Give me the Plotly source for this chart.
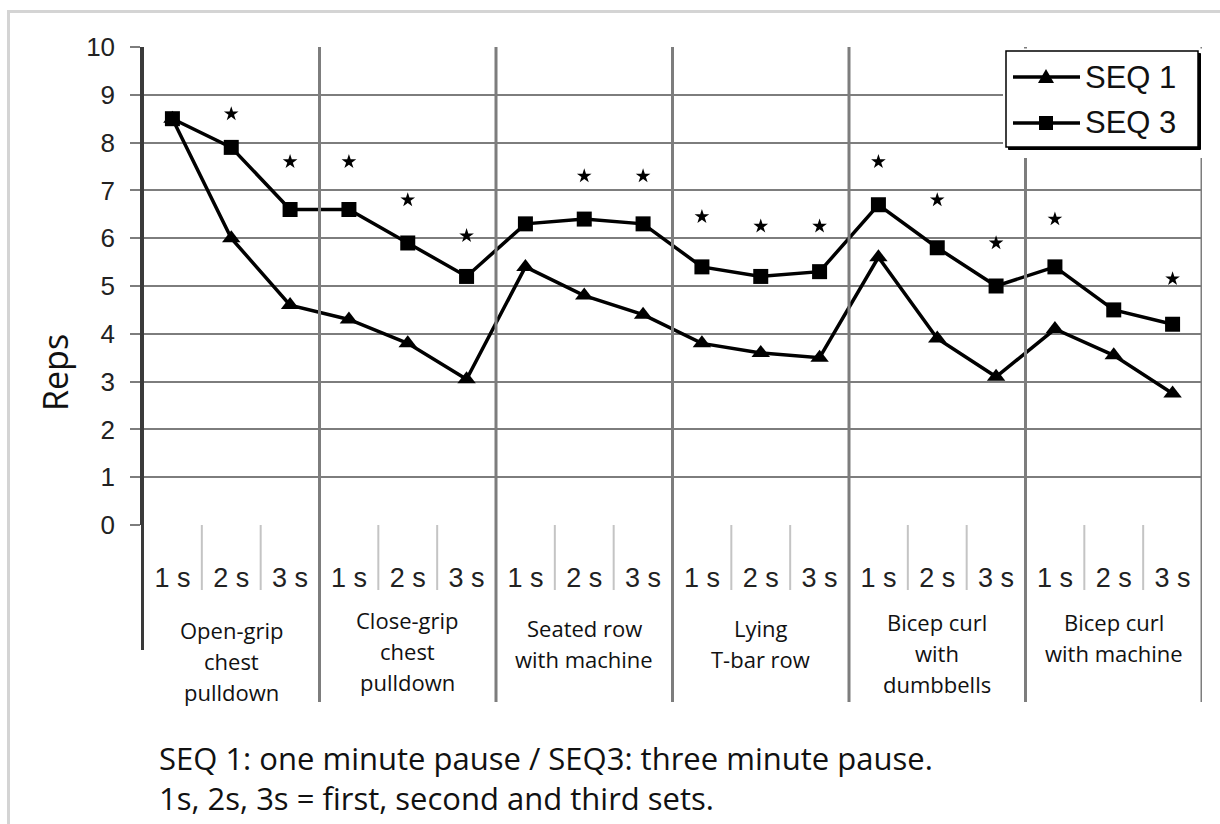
import plotly.graph_objects as go

# ---- data -------------------------------------------------------------
exercises = [
    "Open-grip<br>chest<br>pulldown",
    "Close-grip<br>chest<br>pulldown",
    "Seated row<br>with machine",
    "Lying<br>T-bar row",
    "Bicep curl<br>with<br>dumbbells",
    "Bicep curl<br>with machine",
]
set_labels = ["1 s", "2 s", "3 s"]
seq1_reps = [8.5, 6.0, 4.6, 4.3, 3.8, 3.05, 5.4, 4.8, 4.4, 3.8, 3.6, 3.5, 5.6, 3.9, 3.1, 4.1, 3.55, 2.75]
seq3_reps = [8.5, 7.9, 6.6, 6.6, 5.9, 5.2, 6.3, 6.4, 6.3, 5.4, 5.2, 5.3, 6.7, 5.8, 5.0, 5.4, 4.5, 4.2]
significance = [None, 8.6, 7.6, 7.6, 6.8, 6.05, None, 7.3, 7.3, 6.45, 6.25, 6.25,
                7.6, 6.8, 5.9, 6.4, None, 5.15]
y_ticks = list(range(0, 11))
footnotes = [
    "SEQ 1: one minute pause / SEQ3: three minute pause.",
    "1s, 2s, 3s = first, second and third sets.",
]

# ---- geometry helpers (pixel -> paper) ---------------------------------
W, H = 1220, 824
PL, PR, PT, PB = 143, 1202, 47, 525


def px_x(px):
    return (px - PL) / (PR - PL)


def px_y(py):
    return (PB - py) / (PB - PT)


n_sets = len(set_labels)
x_idx = list(range(len(exercises) * n_sets))
tick_text = set_labels * len(exercises)

GRID = "#7d7d7d"
SUBGRID = "#c4c4c4"
AXIS = "#3a3a3a"
SANS = "Liberation Sans, Arial, sans-serif"
HUMAN = "Open Sans, Noto Sans, sans-serif"

fig = go.Figure()

fig.add_trace(go.Scatter(
    x=x_idx, y=seq1_reps, mode="lines+markers", name="SEQ 1",
    line=dict(color="black", width=3.5),
    marker=dict(symbol="triangle-up", size=16, color="black"),
))
fig.add_trace(go.Scatter(
    x=x_idx, y=seq3_reps, mode="lines+markers", name="SEQ 3",
    line=dict(color="black", width=3.5),
    marker=dict(symbol="square", size=15, color="black"),
))
fig.add_trace(go.Scatter(
    x=x_idx, y=significance, mode="markers", name="*",
    marker=dict(symbol="star", size=11, color="black"),
))

shapes = []
# outer light frame
shapes.append(dict(type="rect", xref="paper", yref="paper",
                   x0=px_x(8.5), x1=px_x(1260), y0=px_y(11.5), y1=px_y(900),
                   line=dict(color="#d4d4d4", width=3), layer="below"))

# group separators (run down through the label area)
for g in range(1, len(exercises) + 1):
    xb = g * n_sets - 0.5
    shapes.append(dict(type="line", xref="x", yref="paper",
                       x0=xb, x1=xb, y0=1, y1=px_y(702),
                       line=dict(color=GRID, width=3)))
# set separators below the axis
for g in range(len(exercises)):
    for k in (0.5, 1.5):
        xb = g * n_sets + k
        shapes.append(dict(type="line", xref="x", yref="paper",
                           x0=xb, x1=xb, y0=0, y1=px_y(590),
                           line=dict(color=SUBGRID, width=2)))
# left axis line, carried down under the plot
shapes.append(dict(type="line", xref="paper", yref="paper",
                   x0=px_x(142.5), x1=px_x(142.5), y0=1, y1=px_y(650),
                   line=dict(color=AXIS, width=3)))

# legend block
LX0, LX1, LY0, LY1 = 1006, 1198, 51, 147
shapes.append(dict(type="rect", xref="paper", yref="paper",
                   x0=px_x(1003), x1=px_x(1206), y0=px_y(48.5), y1=px_y(158),
                   fillcolor="white", line=dict(width=0)))
shapes.append(dict(type="rect", xref="paper", yref="paper",
                   x0=px_x(LX0 + 2.5), x1=px_x(LX1 + 2.5), y0=px_y(LY0 + 2.5), y1=px_y(LY1 + 2.5),
                   fillcolor="black", line=dict(color="black", width=1)))
shapes.append(dict(type="rect", xref="paper", yref="paper",
                   x0=px_x(LX0), x1=px_x(LX1), y0=px_y(LY0), y1=px_y(LY1),
                   fillcolor="white", line=dict(color="black", width=1.5)))
legend_rows = [("SEQ 1", "triangle", 77), ("SEQ 3", "square", 123)]
for label, sym, ly in legend_rows:
    shapes.append(dict(type="line", xref="paper", yref="paper",
                       x0=px_x(1013), x1=px_x(1080), y0=px_y(ly), y1=px_y(ly),
                       line=dict(color="black", width=3.5)))
    cx = 1046
    if sym == "square":
        shapes.append(dict(type="rect", xref="paper", yref="paper",
                           x0=px_x(cx - 7), x1=px_x(cx + 7), y0=px_y(ly - 7), y1=px_y(ly + 7),
                           fillcolor="black", line=dict(width=0)))
    else:
        path = "M{},{} L{},{} L{},{} Z".format(
            px_x(cx - 8), px_y(ly + 6), px_x(cx + 8), px_y(ly + 6), px_x(cx), px_y(ly - 8))
        shapes.append(dict(type="path", xref="paper", yref="paper", path=path,
                           fillcolor="black", line=dict(width=0)))

annotations = []
for label, sym, ly in legend_rows:
    annotations.append(dict(xref="paper", yref="paper", x=px_x(1083), y=px_y(ly),
                            xanchor="left", yanchor="middle", showarrow=False,
                            text=label, font=dict(family=SANS, size=31, color="#111")))

# y-axis title
annotations.append(dict(xref="paper", yref="paper", x=px_x(55), y=px_y(373),
                        text="Reps", textangle=-90, showarrow=False,
                        xanchor="center", yanchor="middle",
                        font=dict(family=HUMAN, size=34, color="#111")))

# exercise names under each group of sets
label_top_px = [630, 620, 628, 628, 622, 622]
LINE_STEP = 31
for g, name in enumerate(exercises):
    xc = g * n_sets + (n_sets - 1) / 2
    for j, line in enumerate(name.split("<br>")):
        annotations.append(dict(xref="x", yref="paper", x=xc,
                                y=px_y(label_top_px[g] + j * LINE_STEP),
                                text=line, showarrow=False,
                                xanchor="center", yanchor="middle",
                                font=dict(family=HUMAN, size=22, color="#111")))

# footnotes
for j, note in enumerate(footnotes):
    annotations.append(dict(xref="paper", yref="paper", x=px_x(157),
                            y=px_y(758 + j * 40), text=note, showarrow=False,
                            xanchor="left", yanchor="middle",
                            font=dict(family=HUMAN, size=31, color="#111")))

fig.update_layout(
    width=W, height=H,
    margin=dict(l=PL, r=W - PR, t=PT, b=H - PB, pad=0),
    paper_bgcolor="white", plot_bgcolor="white",
    showlegend=False,
    shapes=shapes, annotations=annotations,
    xaxis=dict(
        range=[-0.5, len(x_idx) - 0.5], tickmode="array", tickvals=x_idx, ticktext=tick_text,
        showgrid=False, zeroline=False, showline=False, ticks="",
        ticklabelstandoff=34,
        tickfont=dict(family=SANS, size=27, color="#222"),
    ),
    yaxis=dict(
        range=[0, 10], tickmode="array", tickvals=y_ticks,
        showgrid=True, gridcolor=GRID, gridwidth=2, zeroline=False,
        showline=True, linecolor=AXIS, linewidth=2.5,
        ticks="outside", ticklen=10, tickcolor=GRID, tickwidth=2,
        ticklabelstandoff=10,
        tickfont=dict(family=SANS, size=26, color="#222"),
    ),
)

fig.write_html("out.html")
